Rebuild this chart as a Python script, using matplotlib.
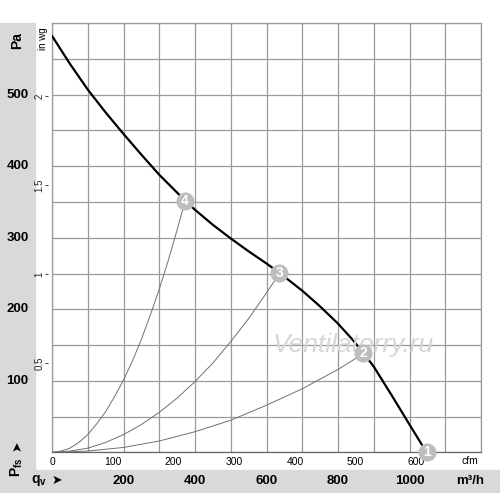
import numpy as np
import matplotlib.pyplot as plt
from matplotlib.patches import Rectangle

plt.rcParams['font.family'] = ['Liberation Sans', 'DejaVu Sans']
plt.rcParams['mathtext.fontset'] = 'custom'
plt.rcParams['mathtext.rm'] = 'Liberation Sans'
plt.rcParams['mathtext.bf'] = 'Liberation Sans:bold'

# fan curve: air flow (m3/h) vs static pressure (Pa)
q_fan = [0, 50, 100, 150, 200, 250, 300, 340, 372, 400, 450, 500, 550, 600, 636,
         700, 750, 800, 840, 871, 900, 950, 1000, 1048]
p_fan = [582, 543, 507, 475, 445, 416, 388, 368, 352, 339, 318, 299, 281, 264, 251,
         226, 204, 180, 158, 139, 120, 80, 39, 0]

# system curves through the operating points 4, 3, 2
q_sys4 = [0, 25, 50, 75, 100, 125, 150, 175, 200, 225, 250, 275, 300, 325, 350, 372]
p_sys4 = [0, 2, 6, 14, 25, 40, 57, 78, 101, 128, 158, 192, 228, 268, 311, 351]
q_sys3 = [0, 50, 100, 150, 200, 250, 300, 350, 400, 450, 500, 550, 600, 636]
p_sys3 = [0, 2, 6, 14, 25, 39, 56, 76, 99, 125, 155, 187, 223, 250]
q_sys2 = [0, 100, 200, 300, 400, 500, 600, 700, 800, 871]
p_sys2 = [0, 2, 7, 16, 29, 45, 66, 89, 116, 138]

# numbered operating points
pt_labels = ['1', '2', '3', '4']
pt_q = [1048, 871, 636, 372]
pt_p = [0, 139, 251, 352]

pa_ticks = [100, 200, 300, 400, 500]
m3h_ticks = [200, 400, 600, 800, 1000]
cfm_ticks = [0, 100, 200, 300, 400, 500, 600]
inwg_ticks = [0.5, 1, 1.5, 2]
inwg_labels = ['0.5', '1', '1.5', '2']

band = '#d9d9d9'
gridc = '#9a9a9a'

fig = plt.figure(figsize=(5, 4.93), dpi=100)
# grey label bands on the left and at the bottom
fig.patches.append(Rectangle((0, 0), 35 / 500, 470 / 493, transform=fig.transFigure,
                             color=band, zorder=-5))
fig.patches.append(Rectangle((0, 0), 1, 23 / 493, transform=fig.transFigure,
                             color=band, zorder=-5))

ax = fig.add_axes([0.104, 0.0822, 0.858, 0.8712])
ax.set_xlim(0, 1200)
ax.set_ylim(0, 600)
ax.set_xticks(np.arange(0, 1201, 100))
ax.set_yticks(np.arange(0, 601, 50))
ax.grid(True, color=gridc, lw=0.9)
ax.tick_params(length=0, labelbottom=False, labelleft=False)
for s in ax.spines.values():
    s.set_color(gridc)
    s.set_linewidth(0.9)
ax.spines['bottom'].set_color('#666666')

# curves
ax.plot(q_sys4, p_sys4, color='#707070', lw=0.7, zorder=3)
ax.plot(q_sys3, p_sys3, color='#707070', lw=0.7, zorder=3)
ax.plot(q_sys2, p_sys2, color='#707070', lw=0.7, zorder=3)
ax.plot(q_fan, p_fan, color='black', lw=1.6, zorder=4, solid_capstyle='round',
        solid_joinstyle='round')

# watermark
ax.text(0.703, 0.25, 'Ventilatorry.ru', transform=ax.transAxes, ha='center', va='center',
        fontsize=19, style='italic', color='#d6d6d6', zorder=4.5)

# operating point markers
ax.plot(pt_q, pt_p, 'o', ms=13, mfc='#bdbdbd', mec='none', clip_on=False, zorder=5)
for lab, q, p in zip(pt_labels, pt_q, pt_p):
    ax.text(q, p, lab, color='white', ha='center', va='center', fontsize=10,
            weight='bold', zorder=6, clip_on=False)

# Pa labels in the left band
ytr = ax.get_yaxis_transform()
for v in pa_ticks:
    ax.text(-0.08, v, str(v), transform=ytr, ha='center', va='center',
            fontsize=9.5, weight='bold')
ax.text(-0.082, 0.96, 'Pa', transform=ax.transAxes, ha='center', va='center',
        rotation=90, fontsize=10, weight='bold')
ax.text(-0.082, -0.035, r'$\mathbf{P}_\mathbf{fs}$', transform=ax.transAxes,
        ha='center', va='center', rotation=90, fontsize=10, weight='bold')
ax.text(-0.082, 0.015, '➤', transform=ax.transAxes, ha='center', va='center',
        rotation=90, fontsize=9, weight='bold', family='DejaVu Sans')

# m3/h labels in the bottom band
xtr = ax.get_xaxis_transform()
for v in m3h_ticks:
    ax.text(v, -0.066, str(v), transform=xtr, ha='center', va='center',
            fontsize=9.5, weight='bold')
ax.text(0.974, -0.066, 'm³/h', transform=ax.transAxes, ha='center', va='center',
        fontsize=9.5, weight='bold')
ax.text(-0.03, -0.066, r'$\mathbf{q}_\mathbf{v}$', transform=ax.transAxes,
        ha='center', va='center', fontsize=10, weight='bold')
ax.text(0.012, -0.066, '➤', transform=ax.transAxes, ha='center', va='center',
        fontsize=9, weight='bold', family='DejaVu Sans')

# inch water gauge scale
sec_y = ax.secondary_yaxis(-0.009, functions=(lambda p: p / 249.09, lambda w: w * 249.09))
sec_y.set_yticks(inwg_ticks, inwg_labels)
sec_y.tick_params(length=2, width=0.6, pad=0.5, labelsize=7, colors='#222222')
for lbl in sec_y.get_yticklabels():
    lbl.set_rotation(90)
    lbl.set_va('center')
sec_y.spines['left'].set_visible(False)
ax.text(-0.021, 0.963, 'in wg', transform=ax.transAxes, ha='center', va='center',
        rotation=90, fontsize=7)

# cfm scale
sec_x = ax.secondary_xaxis(0, functions=(lambda q: q / 1.699, lambda c: c * 1.699))
sec_x.set_xticks(cfm_ticks)
sec_x.tick_params(length=0, pad=3, labelsize=7.5)
sec_x.spines['bottom'].set_visible(False)
ax.text(0.974, -0.02, 'cfm', transform=ax.transAxes, ha='center', va='center',
        fontsize=7.5)

fig.savefig('out.png', dpi=100)
